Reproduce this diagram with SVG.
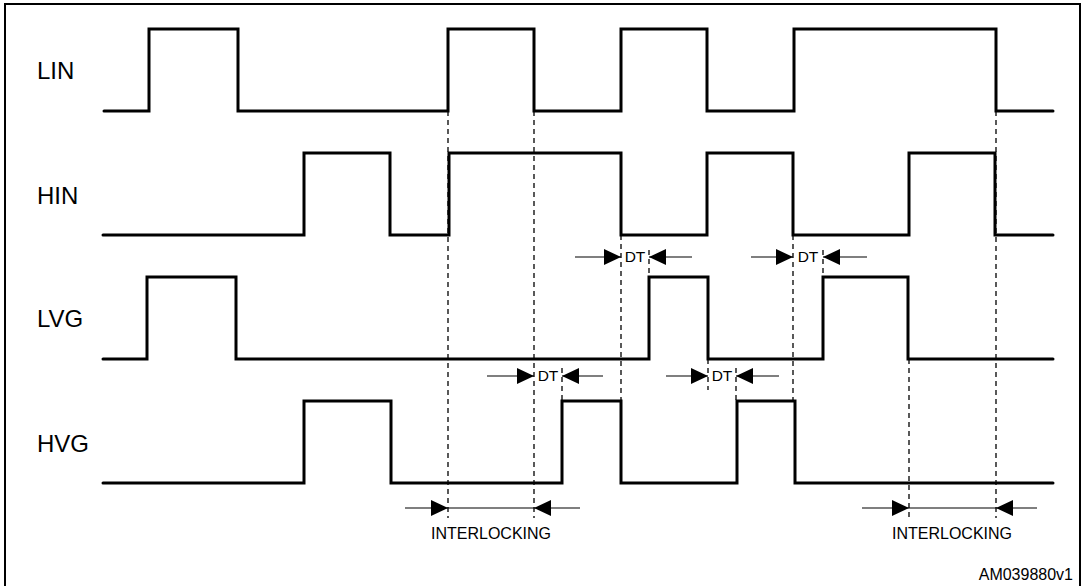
<svg xmlns="http://www.w3.org/2000/svg" width="1086" height="586" viewBox="0 0 1086 586">
<style>
.sig{fill:none;stroke:#000;stroke-width:3;stroke-linecap:round;stroke-linejoin:miter}
.dash{fill:none;stroke:#000;stroke-width:1.3;stroke-dasharray:5 4}
.dim{fill:none;stroke:#000;stroke-width:1.2;marker-end:url(#ah)}
.lbl{font-family:"Liberation Sans",Arial,sans-serif;font-size:24px;fill:#000}
.sm{font-family:"Liberation Sans",Arial,sans-serif;font-size:15.5px;fill:#000;text-anchor:middle}
.md{font-family:"Liberation Sans",Arial,sans-serif;font-size:16px;fill:#000;text-anchor:middle}
</style>
<defs>
<marker id="ah" markerUnits="userSpaceOnUse" markerWidth="18" markerHeight="16" viewBox="0 0 18 16" refX="17" refY="8" orient="auto">
<path d="M0,0 L17,8 L0,16 Z" fill="#000"/>
</marker>
</defs>
<rect x="5" y="4" width="1075" height="620" fill="#fff" stroke="#000" stroke-width="2"/>
<g id="LIN">
<text class="lbl" x="37" y="79">LIN</text>
<path class="sig" d="M104,111 H149 V29 H238 V111 H448 V29 H534 V111 H621 V29 H707 V111 H794 V29 H996 V111 H1053"/>
</g>
<g id="HIN">
<text class="lbl" x="37" y="204">HIN</text>
<path class="sig" d="M103,235 H304 V153 H390 V235 H449 V153 H621 V235 H707 V153 H793 V235 H909 V153 H995 V235 H1053"/>
</g>
<g id="LVG">
<text class="lbl" x="37" y="327">LVG</text>
<path class="sig" d="M103,359 H147 V277 H236 V359 H649 V277 H708 V359 H823 V277 H908 V359 H1053"/>
</g>
<g id="HVG">
<text class="lbl" x="37" y="452">HVG</text>
<path class="sig" d="M103,483 H304 V401 H391 V483 H562 V401 H621 V483 H737 V401 H795 V483 H1053"/>
</g>
<g id="connectors">
<path class="dash" d="M448,111 V518 M534,111 V518 M621,235 V401 M649,250 V277 M562,368 V401 M708,359 V390 M736,368 V401 M793,235 V401 M823,250 V277 M909,359 V518 M996,111 V518"/>
<path class="dim" d="M575,257 H621"/>
<path class="dim" d="M692,257 H649"/>
<path class="dim" d="M751,257 H793"/>
<path class="dim" d="M867,257 H823"/>
<path class="dim" d="M487,376 H534"/>
<path class="dim" d="M603,376 H562"/>
<path class="dim" d="M666,376 H708"/>
<path class="dim" d="M779,376 H736"/>
<path class="dim" d="M405,508 H448"/>
<path class="dim" d="M580,508 H534"/>
<path class="dim" d="M862,508 H909"/>
<path class="dim" d="M1037,508 H996"/>
<path fill="none" stroke="#000" stroke-width="1.2" d="M448,508 H534 M909,508 H996"/>
</g>
<g id="labels">
<text class="sm" x="635" y="262">DT</text>
<text class="sm" x="808" y="262">DT</text>
<text class="sm" x="548" y="381">DT</text>
<text class="sm" x="722" y="381">DT</text>
<text class="md" x="491" y="539">INTERLOCKING</text>
<text class="md" x="952" y="539">INTERLOCKING</text>
<text class="md" x="1073" y="580" style="text-anchor:end">AM039880v1</text>
</g>
</svg>
